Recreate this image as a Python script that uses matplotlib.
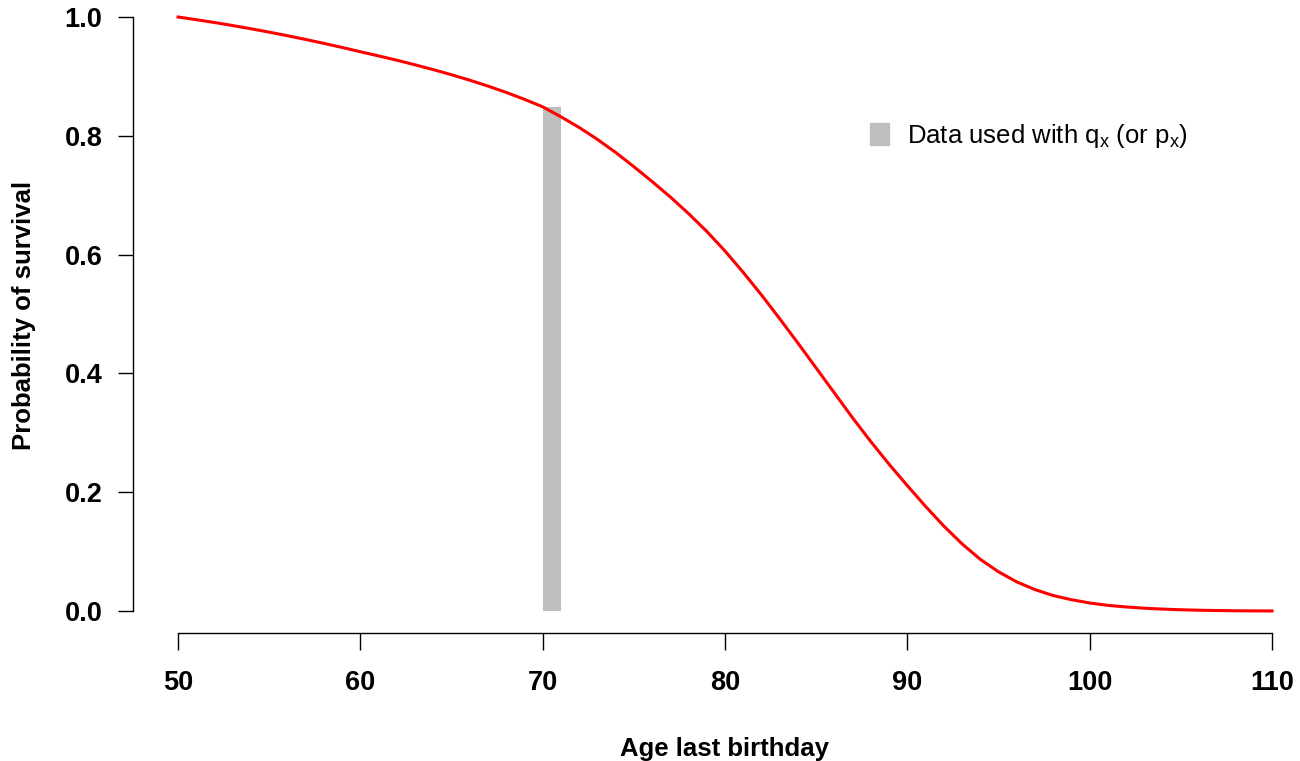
import matplotlib
matplotlib.use("Agg")
from matplotlib import pyplot as plt
from matplotlib.patches import Patch

# Survival curve, one value per year of age
ages = list(range(50, 111))
surv = [1.000, 0.9955, 0.9907, 0.9856, 0.9802, 0.9745, 0.9685, 0.9622, 0.9556, 0.9487,
        0.9415, 0.9345, 0.9272, 0.9195, 0.9114, 0.9028, 0.8936, 0.8837, 0.8730, 0.8614,
        0.8488, 0.832, 0.814, 0.794, 0.772, 0.748, 0.723, 0.697, 0.669, 0.639,
        0.606, 0.570, 0.532, 0.492, 0.451, 0.409, 0.367, 0.325, 0.285, 0.247,
        0.211, 0.176, 0.143, 0.113, 0.087, 0.066, 0.049, 0.036, 0.026, 0.019,
        0.0135, 0.0095, 0.0068, 0.0047, 0.0032, 0.0021, 0.0013, 0.0008, 0.0004,
        0.0002, 0.0001]

# Age band used with q_x
bar_age = 70
bar_height = surv[ages.index(bar_age)]

xticks = [50, 60, 70, 80, 90, 100, 110]
yticks = [0.0, 0.2, 0.4, 0.6, 0.8, 1.0]

plt.rcParams['font.family'] = ['Liberation Sans', 'DejaVu Sans']
plt.rcParams['mathtext.fontset'] = 'custom'
plt.rcParams['mathtext.rm'] = 'Liberation Sans'

W, H = 1300, 761
fig = plt.figure(figsize=(W / 100, H / 100), dpi=100)
ax = fig.add_axes([133 / W, (H - 633) / H, (W - 133) / W, 633 / H])

ax.bar(bar_age, bar_height, width=1, align='edge', color='#BEBEBE')
ax.plot(ages, surv, color='red', lw=2.2)

ax.set_xlim(47.53, 47.53 + 1167 / 18.233)
ax.set_ylim(-22 / 594, -22 / 594 + 633 / 594)

for s in ['top', 'right']:
    ax.spines[s].set_visible(False)
ax.spines['left'].set_bounds(0, 1)
ax.spines['bottom'].set_bounds(50, 110)
ax.spines['left'].set_linewidth(1.0)
ax.spines['bottom'].set_linewidth(1.0)

ax.set_xticks(xticks)
ax.set_xticklabels([str(v) for v in xticks], fontsize=19.5, fontweight='bold')
ax.set_yticks(yticks)
ax.set_yticklabels(["{:0.1f}".format(v) for v in yticks], fontsize=19.5,
                   fontweight='bold')
ax.tick_params(axis='y', length=11, width=1.0, pad=11)
ax.tick_params(axis='x', length=12.5, width=1.0, pad=14)

fig.text(724.5 / W, 1 - 756 / H, "Age last birthday", fontsize=18.5,
         fontweight='bold', ha='center', va='baseline')
fig.text(24 / W, 1 - 315 / H, "Probability of survival", fontsize=18.5,
         fontweight='bold', ha='center', va='center', rotation=90)

handle = Patch(color='#BEBEBE')
fig.legend([handle], [r"Data used with $\mathregular{q_x}$ (or $\mathregular{p_x}$)"],
           loc='center left', bbox_to_anchor=(870 / W, 1 - 136 / H),
           frameon=False, fontsize=18.5, handlelength=0.74, handleheight=0.93,
           handletextpad=0.7, borderpad=0, borderaxespad=0)

fig.savefig("out.png", dpi=100)
